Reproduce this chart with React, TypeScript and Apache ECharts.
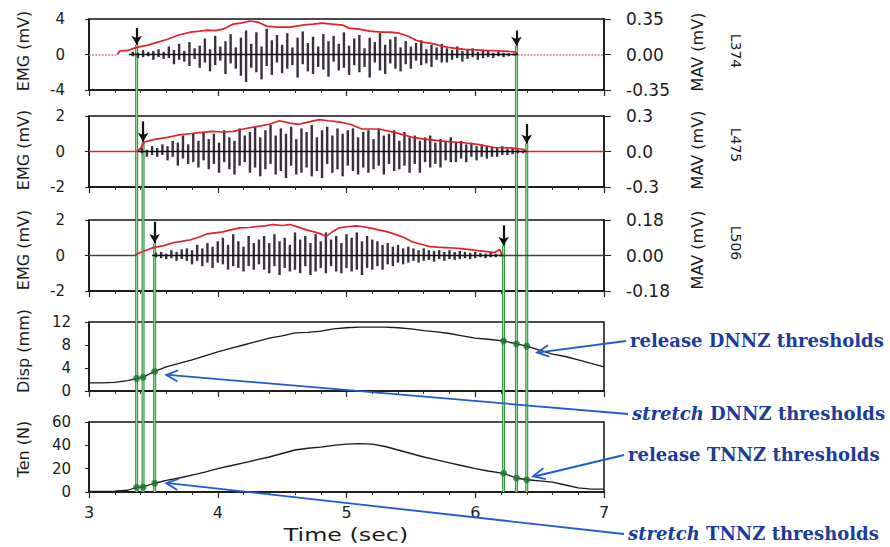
import React, { useEffect, useRef } from 'react';
import * as echarts from 'echarts';

// ---------- data ----------
// EMG: (max, min) pair per 0.04 s window
const emgWindow = 0.04;
const emg1Start = 3.34;
const emg1 = [
  [0.3, -0.2], [0.2, -0.4], [0.5, -0.3], [0.3, -0.2], [0.4, -0.6], [0.6, -0.3], [0.3, -0.5],
  [0.9, -0.4], [0.5, -1.1], [1.2, -0.6], [0.4, -0.8], [1.4, -1.3], [0.7, -0.5], [1.0, -1.5],
  [1.8, -0.9], [0.6, -1.9], [2.1, -1.2], [0.9, -0.7], [1.5, -2.2], [2.3, -1.0], [0.8, -1.6], [1.9, -2.4],
  [2.7, -3.1], [1.2, -1.5], [2.5, -2.0], [0.9, -2.8], [2.9, -1.3], [1.6, -2.3], [2.2, -0.9],
  [1.1, -2.1], [2.4, -1.6], [0.8, -1.2], [1.9, -2.6], [2.6, -1.1], [1.3, -1.9], [2.0, -2.2], [0.9, -1.4], [2.3, -1.7], [1.5, -2.5], [2.1, -0.8], [1.2, -1.8],
  [2.5, -1.5], [1.0, -2.3], [1.8, -1.2], [2.2, -2.0], [0.7, -1.4], [1.9, -2.6], [1.4, -0.9], [2.4, -1.8], [1.1, -2.2], [1.7, -1.0], [2.0, -1.6], [0.8, -1.9],
  [1.5, -1.1], [0.9, -1.6], [1.3, -0.7], [1.6, -1.2], [0.6, -1.0], [1.1, -1.4], [0.8, -0.6], [1.2, -0.9],
  [0.7, -0.9], [0.5, -0.6], [0.9, -0.4], [0.4, -0.8], [0.6, -0.5], [0.7, -0.3], [0.3, -0.6], [0.5, -0.4],
  [0.4, -0.3], [0.2, -0.4], [0.3, -0.2], [0.2, -0.3], [0.15, -0.2], [0.1, -0.1],
];
const emg2Start = 3.41;
const emg2 = [
  [0.2, -0.1], [0.1, -0.3], [0.3, -0.2], [0.2, -0.3], [0.4, -0.2], [0.3, -0.5], [0.6, -0.3],
  [0.5, -0.8], [0.9, -0.4], [0.4, -0.7], [1.0, -0.6], [0.6, -0.9], [1.1, -0.5], [0.7, -1.0],
  [1.0, -0.7], [0.5, -1.2], [1.2, -0.6], [0.8, -1.0], [0.6, -1.3], [1.3, -0.8], [0.9, -0.6], [1.1, -1.2],
  [1.4, -0.9], [0.8, -1.4], [1.2, -1.0], [1.5, -0.7], [0.9, -1.3], [1.3, -1.1], [1.0, -1.5],
  [1.4, -0.8], [0.7, -1.3], [1.3, -1.2], [1.1, -0.9], [1.5, -1.4], [0.8, -1.1], [1.2, -1.5], [1.4, -0.7], [0.9, -1.2], [1.3, -1.0], [1.0, -1.4], [1.2, -0.8],
  [1.3, -1.1], [0.8, -1.3], [1.1, -0.9], [1.2, -1.2], [0.7, -1.0], [1.3, -0.8], [0.9, -1.3], [1.0, -0.7], [1.2, -1.1], [0.6, -1.0], [1.1, -0.8], [0.8, -1.2],
  [0.9, -0.7], [0.6, -1.2], [0.8, -0.6], [0.9, -0.9], [0.5, -0.7], [0.7, -0.9], [0.6, -0.5], [0.8, -0.6],
  [0.5, -0.6], [0.6, -0.4], [0.4, -0.6], [0.5, -0.3], [0.3, -0.5], [0.4, -0.3], [0.3, -0.4], [0.25, -0.3],
  [0.2, -0.3], [0.3, -0.2], [0.15, -0.2], [0.2, -0.15], [0.1, -0.1], [0.05, -0.1],
];
const emg3Start = 3.52;
const emg3 = [
  [0.15, -0.1], [0.2, -0.15], [0.1, -0.2], [0.3, -0.15], [0.2, -0.3], [0.35, -0.2],
  [0.4, -0.3], [0.3, -0.5], [0.6, -0.3], [0.4, -0.6], [0.7, -0.4], [0.5, -0.7], [0.8, -0.4],
  [1.0, -0.5], [0.6, -0.8], [1.2, -0.6], [0.8, -0.7], [0.5, -0.9], [1.1, -0.6], [0.7, -0.8], [0.9, -0.5],
  [1.1, -0.8], [0.7, -1.0], [1.2, -0.6], [0.8, -1.1], [1.0, -0.7], [0.6, -0.9], [1.3, -0.8], [0.9, -1.0], [1.1, -0.6], [0.7, -1.1],
  [1.2, -0.9], [0.8, -0.7], [1.3, -1.0], [0.9, -0.6], [1.1, -0.9], [0.7, -1.0], [1.2, -0.7], [1.0, -0.9], [1.3, -0.8], [0.8, -1.1], [1.1, -0.7], [0.9, -0.8],
  [0.8, -0.6], [0.6, -0.8], [0.7, -0.5], [0.5, -0.6], [0.6, -0.4], [0.4, -0.5], [0.5, -0.4], [0.4, -0.3],
  [0.3, -0.4], [0.4, -0.3], [0.3, -0.25], [0.25, -0.35], [0.3, -0.2], [0.2, -0.3], [0.3, -0.2], [0.2, -0.25], [0.25, -0.2], [0.2, -0.15],
  [0.15, -0.2], [0.2, -0.15], [0.15, -0.1], [0.1, -0.15], [0.15, -0.1], [0.1, -0.1], [0.05, -0.05],
];

const mav1T = [3.22, 3.24, 3.3, 3.37, 3.45, 3.53, 3.61, 3.69, 3.79, 3.86, 3.92, 3.98, 4.04, 4.12, 4.18, 4.25, 4.31, 4.38, 4.46, 4.56, 4.66, 4.74, 4.81, 4.89, 4.97, 5.02, 5.1, 5.18, 5.27, 5.34, 5.41, 5.48, 5.54, 5.6, 5.66, 5.72, 5.79, 5.85, 5.92, 6.0, 6.08, 6.18, 6.25, 6.31, 6.33];
const mav1V = [0.0, 0.035, 0.04, 0.07, 0.09, 0.12, 0.15, 0.19, 0.22, 0.23, 0.24, 0.235, 0.25, 0.3, 0.31, 0.33, 0.32, 0.28, 0.27, 0.27, 0.29, 0.3, 0.31, 0.3, 0.29, 0.26, 0.25, 0.23, 0.22, 0.22, 0.21, 0.18, 0.14, 0.12, 0.11, 0.09, 0.07, 0.06, 0.05, 0.045, 0.04, 0.035, 0.03, 0.025, 0.0];
const mav2T = [3.0, 3.37, 3.4, 3.43, 3.5, 3.61, 3.7, 3.78, 3.86, 3.95, 4.04, 4.12, 4.2, 4.3, 4.4, 4.48, 4.56, 4.63, 4.71, 4.79, 4.86, 4.94, 5.03, 5.12, 5.25, 5.38, 5.51, 5.64, 5.77, 5.89, 6.02, 6.15, 6.28, 6.38, 6.4, 7.0];
const mav2V = [0, 0.0, 0.025, 0.08, 0.1, 0.12, 0.14, 0.15, 0.16, 0.17, 0.165, 0.17, 0.19, 0.21, 0.23, 0.26, 0.24, 0.23, 0.25, 0.27, 0.26, 0.25, 0.23, 0.19, 0.19, 0.16, 0.12, 0.1, 0.085, 0.076, 0.06, 0.034, 0.03, 0.017, 0.0, 0.0];
const mav3T = [3.36, 3.38, 3.44, 3.5, 3.58, 3.66, 3.72, 3.79, 3.86, 3.92, 3.98, 4.04, 4.1, 4.17, 4.24, 4.3, 4.37, 4.43, 4.5, 4.56, 4.62, 4.69, 4.75, 4.81, 4.84, 4.89, 4.94, 5.02, 5.07, 5.12, 5.18, 5.25, 5.32, 5.38, 5.45, 5.51, 5.58, 5.64, 5.7, 5.77, 5.83, 5.89, 5.96, 6.02, 6.09, 6.15, 6.19, 6.21];
const mav3V = [0.0, 0.01, 0.025, 0.04, 0.05, 0.066, 0.072, 0.08, 0.095, 0.11, 0.115, 0.12, 0.13, 0.14, 0.142, 0.147, 0.15, 0.157, 0.152, 0.157, 0.145, 0.13, 0.12, 0.107, 0.096, 0.12, 0.14, 0.147, 0.15, 0.147, 0.14, 0.13, 0.12, 0.107, 0.09, 0.07, 0.057, 0.046, 0.042, 0.04, 0.038, 0.035, 0.03, 0.025, 0.02, 0.015, 0.03, 0.0];

const dispT = [3.0, 3.1, 3.2, 3.3, 3.37, 3.42, 3.51, 3.6, 3.7, 3.8, 3.9, 4.0, 4.1, 4.2, 4.3, 4.4, 4.5, 4.6, 4.7, 4.8, 4.9, 5.0, 5.1, 5.2, 5.3, 5.4, 5.5, 5.6, 5.7, 5.8, 5.9, 6.0, 6.1, 6.22, 6.32, 6.4, 6.5, 6.6, 6.7, 6.8, 6.9, 7.0];
const dispV = [1.4, 1.4, 1.5, 1.8, 2.2, 2.4, 3.4, 4.2, 4.8, 5.4, 6.1, 6.8, 7.4, 8.0, 8.6, 9.2, 9.6, 10.1, 10.2, 10.4, 10.8, 11.0, 11.1, 11.1, 11.1, 11.0, 10.8, 10.5, 10.3, 10.0, 9.6, 9.2, 9.0, 8.7, 8.2, 7.8, 7.1, 6.4, 6.0, 5.4, 4.8, 4.2];
const tenT = [3.0, 3.2, 3.3, 3.37, 3.42, 3.51, 3.6, 3.7, 3.8, 3.9, 4.0, 4.1, 4.2, 4.3, 4.4, 4.5, 4.6, 4.7, 4.8, 4.9, 5.0, 5.1, 5.2, 5.3, 5.4, 5.5, 5.6, 5.7, 5.8, 5.9, 6.0, 6.1, 6.22, 6.32, 6.4, 6.5, 6.6, 6.7, 6.8, 6.9, 7.0];
const tenV = [0.5, 0.8, 1.5, 4.0, 4.3, 7.5, 10, 12, 14.5, 17, 20, 22.5, 25, 27.5, 30, 33, 36, 37.5, 38.5, 40, 41, 41.5, 41, 39, 36, 33, 30, 27.5, 25, 22.5, 20, 18, 16, 12, 10.5, 9.5, 8.5, 6, 3.5, 2.5, 2.5];

// thresholds per EMG panel (L374, L475, L506)
const muscleNames = ['L374', 'L475', 'L506'];
const onsetT = [3.37, 3.42, 3.51];
const offsetT = [6.32, 6.4, 6.22];
const onsetArrowTop = [3.0, 1.7, 1.9];
const onsetArrowTip = [1.1, 0.55, 0.7];
const offsetArrowTop = [2.7, 1.55, 1.7];
const offsetArrowTip = [1.0, 0.45, 0.55];
const dotT = [3.37, 3.42, 3.51, 6.22, 6.32, 6.4];
const dispDotV = [2.2, 2.4, 3.4, 8.7, 8.2, 7.8];
const tenDotV = [4.0, 4.3, 7.5, 16, 12, 10.5];

const annotations = [
  { text: 'release DNNZ thresholds', panel: 3, target: [6.48, 6.7], tx: 630, ty: 340, italic: false },
  { text: 'stretch DNNZ thresholds', panel: 3, target: [3.6, 2.8], tx: 632, ty: 413, italic: true },
  { text: 'release TNNZ thresholds', panel: 4, target: [6.45, 13.5], tx: 628, ty: 454, italic: false },
  { text: 'stretch TNNZ thresholds', panel: 4, target: [3.6, 7.6], tx: 628, ty: 533, italic: true },
];

// ---------- layout / style ----------
const FONT = 'DejaVu Sans';
const TXT = '#1c1c1c';
const gridLeft = 89;
const gridRight = 286;
const gridTops = [19, 116, 220, 322, 422];
const gridHeights = [71, 71, 71, 69, 70];

const leftY = [
  { min: -4, max: 4, interval: 4, name: 'EMG (mV)', margin: 24 },
  { min: -2, max: 2, interval: 2, name: 'EMG (mV)', margin: 24 },
  { min: -2, max: 2, interval: 2, name: 'EMG (mV)', margin: 24 },
  { min: 0, max: 12, interval: 4, name: 'Disp (mm)', margin: 18 },
  { min: 0, max: 60, interval: 20, name: 'Ten (N)', margin: 18 },
];
const rightY = [
  { min: -0.35, max: 0.35, interval: 0.35, dec: 2 },
  { min: -0.3, max: 0.3, interval: 0.3, dec: 1 },
  { min: -0.18, max: 0.18, interval: 0.18, dec: 2 },
];

const emgPairs = (start: number, pairs: number[][]) => {
  const hi: number[][] = [];
  const lo: number[][] = [];
  pairs.forEach((p, i) => {
    const t = +(start + i * emgWindow).toFixed(3);
    hi.push([t, p[0]]);
    lo.push([t, p[1]]);
  });
  return { hi, lo, end: hi[hi.length - 1][0] };
};
const zip = (t: number[], v: number[]) => t.map((x, i) => [x, v[i]]);

export default function App() {
  const ref = useRef<HTMLDivElement>(null);
  useEffect(() => {
    if (!ref.current) return;
    const chart = echarts.init(ref.current, null, { renderer: 'svg' });

    const grid = gridTops.map((t, i) => ({
      left: gridLeft, right: gridRight, top: t, height: gridHeights[i],
      show: true, borderColor: '#111', borderWidth: 1.5, backgroundColor: 'transparent',
    }));

    const xAxis = gridTops.map((_, i) => ({
      type: 'value', gridIndex: i, min: 3, max: 7, interval: 1,
      axisLine: { show: true, onZero: false, lineStyle: { color: '#111', width: 1.5 } },
      axisTick: { show: true, length: 6, lineStyle: { color: '#222', width: 1.2 } },
      minorTick: { show: true, splitNumber: 5, length: 3, lineStyle: { color: '#333', width: 1 } },
      axisLabel: { show: i === 4, fontSize: 16, fontFamily: FONT, color: TXT, margin: 12 },
      splitLine: { show: false },
      minorSplitLine: { show: false },
    }));

    const yAxis: any[] = [];
    leftY.forEach((a, i) => {
      yAxis.push({
        type: 'value', gridIndex: i, position: 'left', min: a.min, max: a.max, interval: a.interval,
        axisLine: { show: true, onZero: false, lineStyle: { color: '#111', width: 1.5 } },
        axisTick: { show: true, length: 4, lineStyle: { color: '#222' } },
        axisLabel: { fontSize: 15, fontFamily: FONT, color: TXT, margin: a.margin },
        splitLine: { show: false },
      });
      if (i < 3) {
        const r = rightY[i];
        yAxis.push({
          type: 'value', gridIndex: i, position: 'right', min: r.min, max: r.max, interval: r.interval,
          axisLine: { show: true, onZero: false, lineStyle: { color: '#111', width: 1.5 } },
          axisTick: { show: true, length: 7, lineStyle: { color: '#222' } },
          axisLabel: {
            fontSize: 17, fontFamily: FONT, color: TXT, margin: 22,
            formatter: (v: number) => (Math.abs(v) < 1e-9 ? 0 : v).toFixed(r.dec),
          },
          splitLine: { show: false },
        });
      }
    });

    const emgSets = [
      emgPairs(emg1Start, emg1),
      emgPairs(emg2Start, emg2),
      emgPairs(emg3Start, emg3),
    ];
    const mavSets = [zip(mav1T, mav1V), zip(mav2T, mav2V), zip(mav3T, mav3V)];
    const series: any[] = [];
    const barStyle = { color: '#3a2e40' };
    for (let k = 0; k < 3; k++) {
      const e = emgSets[k];
      series.push({
        type: 'bar', xAxisIndex: k, yAxisIndex: 2 * k, data: e.hi, barWidth: 2.4, barGap: '-100%',
        itemStyle: barStyle, z: 2, silent: true,
        markLine: {
          silent: true, symbol: ['none', 'arrow'], symbolSize: [8, 9], label: { show: false },
          lineStyle: { color: '#111', width: 2.2, type: 'solid' },
          data: [
            [{ coord: [onsetT[k], onsetArrowTop[k]] }, { coord: [onsetT[k], onsetArrowTip[k]] }],
            [{ coord: [offsetT[k], offsetArrowTop[k]] }, { coord: [offsetT[k], offsetArrowTip[k]] }],
          ],
        },
      });
      series.push({
        type: 'bar', xAxisIndex: k, yAxisIndex: 2 * k, data: e.lo, barWidth: 2.4, barGap: '-100%',
        itemStyle: barStyle, z: 2, silent: true,
        markLine: {
          silent: true, symbol: 'none', label: { show: false },
          lineStyle: { color: '#111', width: 1.3, type: 'solid' },
          data: [[{ coord: [e.hi[0][0] - 0.03, 0] }, { coord: [e.end + 0.03, 0] }]],
        },
      });
      const mav: any = {
        type: 'line', xAxisIndex: k, yAxisIndex: 2 * k + 1, data: mavSets[k],
        symbol: 'none', lineStyle: { color: '#e5202c', width: 1.7 }, z: 3,
      };
      if (k === 0) {
        mav.markLine = {
          silent: true, symbol: 'none', label: { show: false },
          lineStyle: { color: '#d8607a', width: 1.6, type: 'dotted' },
          data: [
            [{ coord: [3, 0] }, { coord: [mav1T[0], 0] }],
            [{ coord: [mav1T[mav1T.length - 1], 0] }, { coord: [7, 0] }],
          ],
        };
      }
      if (k === 2) {
        mav.markLine = {
          silent: true, symbol: 'none', label: { show: false },
          lineStyle: { color: '#444', width: 1.3, type: 'solid' },
          data: [
            [{ coord: [3, 0] }, { coord: [mav3T[0], 0] }],
            [{ coord: [mav3T[mav3T.length - 1], 0] }, { coord: [7, 0] }],
          ],
        };
      }
      series.push(mav);
    }
    series.push({
      type: 'line', xAxisIndex: 3, yAxisIndex: 6, data: zip(dispT, dispV),
      symbol: 'none', lineStyle: { color: '#1a1a1a', width: 1.3 }, z: 2,
    });
    series.push({
      type: 'scatter', xAxisIndex: 3, yAxisIndex: 6, data: zip(dotT, dispDotV),
      symbolSize: 7, itemStyle: { color: '#1d7a2c' }, z: 5,
    });
    series.push({
      type: 'line', xAxisIndex: 4, yAxisIndex: 7, data: zip(tenT, tenV),
      symbol: 'none', lineStyle: { color: '#1a1a1a', width: 1.3 }, z: 2,
    });
    series.push({
      type: 'scatter', xAxisIndex: 4, yAxisIndex: 7, data: zip(dotT, tenDotV),
      symbolSize: 7, itemStyle: { color: '#1d7a2c' }, z: 5,
    });

    chart.setOption({ animation: false, grid, xAxis, yAxis, series });

    // ---- graphics positioned through the chart's own scales ----
    const leftAxisIdx = [0, 2, 4, 6, 7];
    const px = (panel: number, p: number[]) =>
      chart.convertToPixel({ xAxisIndex: panel, yAxisIndex: leftAxisIdx[panel] }, p) as number[];
    const g: any[] = [];
    const bottom = px(4, [3, 0])[1];

    for (let k = 0; k < 3; k++) {
      [[onsetT[k], onsetArrowTip[k]], [offsetT[k], offsetArrowTip[k]]].forEach((p) => {
        const s = px(k, p);
        g.push({ type: 'line', z: 1, shape: { x1: s[0], y1: s[1], x2: s[0], y2: bottom }, style: { stroke: '#2f8f3c', lineWidth: 3 } });
        g.push({ type: 'line', z: 1, shape: { x1: s[0], y1: s[1], x2: s[0], y2: bottom }, style: { stroke: '#a6e3a6', lineWidth: 1 } });
      });
    }

    const leftNameY = [51, 150, 250, 351, 449];
    leftY.forEach((a, i) => {
      g.push({
        type: 'text', x: 23, y: leftNameY[i], rotation: Math.PI / 2,
        style: { text: a.name, fill: TXT, fontSize: 16, fontFamily: FONT, align: 'center', verticalAlign: 'middle', textAlign: 'center', textVerticalAlign: 'middle' },
      });
    });
    const rightNameY = [52, 150, 250];
    const muscleY = [51, 145, 243];
    for (let k = 0; k < 3; k++) {
      g.push({
        type: 'text', x: 697, y: rightNameY[k], rotation: Math.PI / 2,
        style: { text: 'MAV (mV)', fill: TXT, fontSize: 16, fontFamily: FONT, align: 'center', verticalAlign: 'middle', textAlign: 'center', textVerticalAlign: 'middle' },
      });
      g.push({
        type: 'text', x: 736, y: muscleY[k], rotation: -Math.PI / 2,
        style: { text: muscleNames[k], fill: TXT, fontSize: 14, fontFamily: FONT, align: 'center', verticalAlign: 'middle', textAlign: 'center', textVerticalAlign: 'middle' },
      });
    }
    g.push({
      type: 'text', x: 346, y: 535, scaleX: 1.4,
      style: { text: 'Time (sec)', fill: TXT, fontSize: 17, fontFamily: FONT, align: 'center', verticalAlign: 'middle', textAlign: 'center', textVerticalAlign: 'middle' },
    });

    const blue = '#1f5ccc';
    const navy = '#1b3c9c';
    annotations.forEach((a) => {
      const tip = px(a.panel, a.target);
      const end = [a.tx - 4, a.ty + 1];
      const dx = end[0] - tip[0];
      const dy = end[1] - tip[1];
      const len = Math.sqrt(dx * dx + dy * dy);
      const ux = dx / len, uy = dy / len;
      const nx = -uy, ny = ux;
      const L = 13, ang = 0.45;
      const c = Math.cos(ang), s = Math.sin(ang);
      g.push({ type: 'line', z: 6, shape: { x1: tip[0] + 2, y1: tip[1], x2: end[0], y2: end[1] }, style: { stroke: blue, lineWidth: 1.8 } });
      g.push({
        type: 'polyline', z: 6,
        shape: { points: [
          [tip[0] + L * (ux * c + nx * s), tip[1] + L * (uy * c + ny * s)],
          [tip[0], tip[1]],
          [tip[0] + L * (ux * c - nx * s), tip[1] + L * (uy * c - ny * s)],
        ] },
        style: { stroke: blue, lineWidth: 1.8, fill: 'none' },
      });
      const first = a.text.split(' ')[0];
      const rest = a.text.slice(first.length);
      const base = { fill: navy, fontSize: 18, fontFamily: 'DejaVu Serif', fontWeight: 'bold' };
      g.push({
        type: 'text', x: a.tx, y: a.ty, z: 6,
        style: {
          text: `{a|${first}}{b|${rest}}`,
          ...base,
          rich: { a: { ...base, fontStyle: a.italic ? 'italic' : 'normal' }, b: { ...base } },
          align: 'left', verticalAlign: 'middle', textAlign: 'left', textVerticalAlign: 'middle',
        },
      });
    });

    chart.setOption({ graphic: { elements: g } });
    return () => chart.dispose();
  }, []);

  return <div ref={ref} style={{ position: 'fixed', left: 0, top: 0, width: 890, height: 547, background: '#fff' }} />;
}
